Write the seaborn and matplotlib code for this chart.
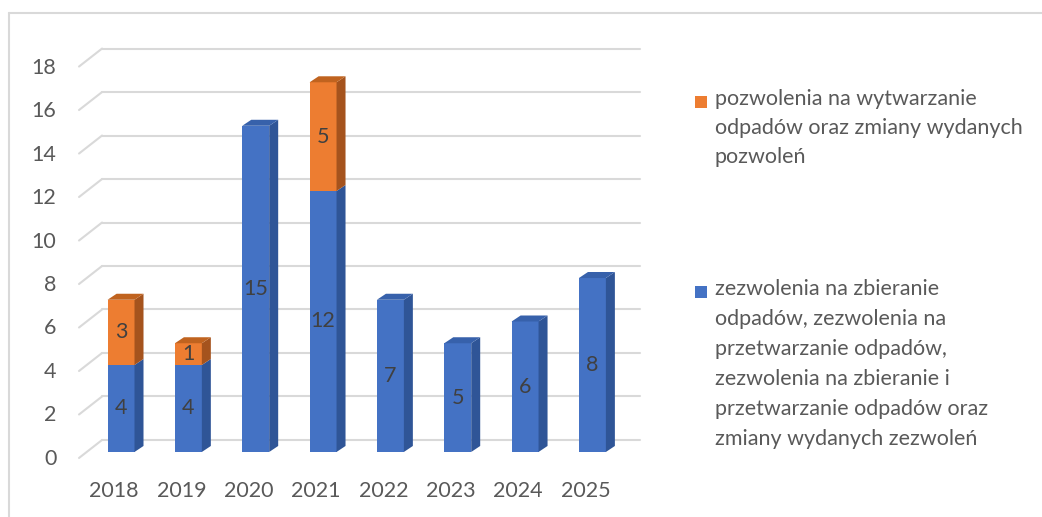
import seaborn as sns
import matplotlib.pyplot as plt
import pandas as pd
from matplotlib.patches import Polygon, Rectangle
from matplotlib.lines import Line2D
from matplotlib.transforms import ScaledTranslation

years = ['2018', '2019', '2020', '2021', '2022', '2023', '2024', '2025']
zezwolenia = [4, 4, 15, 12, 7, 5, 6, 8]
pozwolenia = [3, 1, 0, 5, 0, 0, 0, 0]
y_ticks = [0, 2, 4, 6, 8, 10, 12, 14, 16, 18]

label_poz = 'pozwolenia na wytwarzanie\nodpadów oraz zmiany wydanych\npozwoleń'
label_zez = ('zezwolenia na zbieranie\nodpadów, zezwolenia na\nprzetwarzanie odpadów,\n'
             'zezwolenia na zbieranie i\nprzetwarzanie odpadów oraz\nzmiany wydanych zezwoleń')

blue, blue_side, blue_top = '#4472C4', '#2F5597', '#3761AB'
orange, orange_side, orange_top = '#ED7D31', '#A5531D', '#C0631F'
grid_c = '#D9D9D9'
text_c = '#595959'
fs = 15.5

sns.set_style('white')
plt.rcParams['font.family'] = ['Lato', 'DejaVu Sans']

df = pd.DataFrame({'year': years, 'zez': zezwolenia, 'poz': pozwolenia})
df['total'] = df['zez'] + df['poz']

fig = plt.figure(figsize=(10.42, 5.17), dpi=100)
ax = fig.add_axes([0.058, 0.0795, 0.5687, 0.8665])

sns.barplot(data=df, x='year', y='total', color=orange, width=0.4,
            linewidth=0, saturation=1, ax=ax, zorder=3)
sns.barplot(data=df, x='year', y='zez', color=blue, width=0.4,
            linewidth=0, saturation=1, ax=ax, zorder=3)

# depth of the fake 3d (in data units)
dx, dy = 9 / 67.36, 6 / 21.75
back_off = 12 / 21.75
x_front, x_back, x_end = -0.624, -0.282, 7.705

for v in y_ticks:
    ax.plot([x_back, x_end], [v + back_off, v + back_off], color=grid_c, lw=1.5, zorder=1)
    ax.plot([x_front, x_back], [v - dy, v + back_off], color=grid_c, lw=1.5, zorder=1)

n = len(years)
zez_patches = ax.patches[n:2 * n]

for i, pz in enumerate(zez_patches):
    x0 = pz.get_x()
    x1 = x0 + pz.get_width()
    segs = [(0, zezwolenia[i], blue_side, blue_top)]
    if pozwolenia[i] > 0:
        segs.append((zezwolenia[i], zezwolenia[i] + pozwolenia[i], orange_side, orange_top))
    for b, t, sc, tc in segs:
        ax.add_patch(Polygon([(x1, b), (x1 + dx, b + dy), (x1 + dx, t + dy), (x1, t)],
                             closed=True, facecolor=sc, edgecolor='none', zorder=3))
    top = segs[-1][1]
    ax.add_patch(Polygon([(x0, top), (x1, top), (x1 + dx, top + dy), (x0 + dx, top + dy)],
                         closed=True, facecolor=segs[-1][3], edgecolor='none', zorder=3))
    xc = (x0 + x1) / 2
    ax.text(xc, zezwolenia[i] / 2, str(zezwolenia[i]), ha='center', va='center',
            fontsize=fs, color='#404040', zorder=5)
    if pozwolenia[i] > 0:
        ax.text(xc, zezwolenia[i] + pozwolenia[i] / 2, str(pozwolenia[i]), ha='center',
                va='center', fontsize=fs, color='#404040', zorder=5)

ax.set_xlim(-0.9, 7.9)
ax.set_ylim(-1.1, 19.5)
ax.set_yticks(y_ticks)
ax.set_xlabel('')
ax.set_ylabel('')
for s in ax.spines.values():
    s.set_visible(False)
ax.tick_params(axis='both', length=0, labelsize=fs, labelcolor=text_c)
ax.tick_params(axis='y', pad=3)
ax.tick_params(axis='x', pad=4)
for lab in ax.get_yticklabels():
    lab.set_transform(lab.get_transform() + ScaledTranslation(0, -5 / 100, fig.dpi_scale_trans))
for lab in ax.get_xticklabels():
    lab.set_transform(lab.get_transform() + ScaledTranslation(-7 / 100, 0, fig.dpi_scale_trans))

# legend drawn by hand so the square sits on the first line
def fx(px):
    return px / 1042

def fy(py):
    return 1 - py / 517

fig.add_artist(Rectangle((fx(695), fy(108)), fx(12), 12 / 517, facecolor=orange,
                         edgecolor='none', transform=fig.transFigure))
fig.text(fx(715), fy(89), label_poz, ha='left', va='top', fontsize=fs,
         color=text_c, linespacing=1.55)
fig.add_artist(Rectangle((fx(695), fy(298)), fx(12), 12 / 517, facecolor=blue,
                         edgecolor='none', transform=fig.transFigure))
fig.text(fx(715), fy(279), label_zez, ha='left', va='top', fontsize=fs,
         color=text_c, linespacing=1.62)

# chart frame (cropped)
fig.add_artist(Line2D([fx(9), 1], [fy(13), fy(13)], color=grid_c, lw=1.5,
                      transform=fig.transFigure))
fig.add_artist(Line2D([fx(9), fx(9)], [fy(13), 0], color=grid_c, lw=1.5,
                      transform=fig.transFigure))

fig.savefig('out.png', dpi=100)
